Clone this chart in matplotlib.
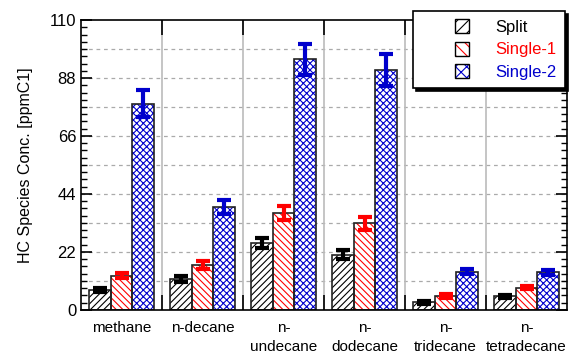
import numpy as np
import matplotlib.pyplot as plt
from matplotlib.ticker import MultipleLocator, FixedLocator, NullFormatter
from matplotlib.patches import Patch, Rectangle
from matplotlib.legend_handler import HandlerPatch, HandlerTuple

plt.rcParams['font.family'] = ['Liberation Sans', 'DejaVu Sans']
plt.rcParams['hatch.linewidth'] = 0.8

categories = ["methane", "n-decane", "n-\nundecane", "n-\ndodecane", "n-\ntridecane", "n-\ntetradecane"]
series = ["Split", "Single-1", "Single-2"]
split_vals = [7.6, 11.8, 25.3, 20.9, 2.9, 5.2]
split_err = [0.9, 1.0, 1.9, 1.7, 0.5, 0.5]
single1_vals = [13.0, 17.1, 36.9, 32.9, 5.3, 8.5]
single1_err = [0.9, 1.6, 2.6, 2.4, 0.6, 0.6]
single2_vals = [78.3, 39.2, 95.1, 91.0, 14.5, 14.3]
single2_err = [5.0, 2.6, 5.9, 6.0, 1.0, 1.0]

vals = [split_vals, single1_vals, single2_vals]
errs = [split_err, single1_err, single2_err]
colors = ["black", "red", "#0000cc"]
hatches = ["/////", "\\\\\\\\\\", "xxxxx"]

fig = plt.figure(figsize=(5.77, 3.54), dpi=100)
ax = fig.add_axes([0.1404, 0.1243, 0.8423, 0.8192])

x = np.arange(len(categories))
w = 0.27
for i in range(3):
    pos = x + (i - 1) * w
    ax.bar(pos, vals[i], w, color="white", edgecolor=colors[i], hatch=hatches[i], linewidth=0, zorder=3)
    ax.bar(pos, vals[i], w, fill=False, edgecolor="#222222", linewidth=1.2, zorder=4)
    ax.errorbar(pos, vals[i], yerr=errs[i], fmt="none", ecolor=colors[i], elinewidth=3,
                capsize=5, capthick=3, zorder=5)

ax.set_xlim(-0.5, len(categories) - 0.5)
ax.set_ylim(0, 110)

# grid
for yv in np.arange(11, 110, 11):
    ax.axhline(yv, color="#aaaaaa", linestyle=(0, (3, 3)), linewidth=0.9, zorder=1)
for xv in np.arange(0.5, len(categories) - 0.5, 1):
    ax.axvline(xv, color="#bbbbbb", linewidth=1.2, zorder=1)

ax.xaxis.set_major_locator(FixedLocator(np.arange(0.5, len(categories) - 0.5, 1)))
ax.xaxis.set_major_formatter(NullFormatter())
ax.xaxis.set_minor_locator(FixedLocator(x))
ax.set_xticklabels(categories, minor=True, linespacing=1.45)
ax.tick_params(axis="x", which="major", direction="in", length=11, width=1.2, top=True, bottom=True)
ax.tick_params(axis="x", which="minor", length=0, labelsize=11, pad=8)

ax.yaxis.set_major_locator(MultipleLocator(22))
ax.yaxis.set_minor_locator(MultipleLocator(2.75))
ax.tick_params(axis="y", which="major", direction="in", length=8, width=1.2, left=True, right=True, labelsize=12)
ax.tick_params(axis="y", which="minor", direction="in", length=4, width=1.0, left=True, right=True)

for s in ax.spines.values():
    s.set_linewidth(1.2)
    s.set_zorder(6)

ax.set_ylabel("HC Species Conc. [ppmC1]", fontsize=11.5)
ax.yaxis.set_label_coords(-0.098, 0.5)


def square_right(legend, orig_handle, xdescent, ydescent, width, height, fontsize):
    return Rectangle((width - height - xdescent, -ydescent), height, height)


sq = HandlerPatch(patch_func=square_right)
handles = []
for i in range(3):
    h1 = Patch(facecolor="white", edgecolor=colors[i], hatch=hatches[i][:3], linewidth=0)
    h2 = Patch(fill=False, edgecolor="black", linewidth=1.0)
    handles.append((h1, h2))

leg = ax.legend(handles, series, loc="upper right", bbox_to_anchor=(0.996, 1.031), fontsize=12,
                frameon=True, fancybox=False, shadow={"color": "black", "alpha": 1},
                handlelength=2.85, handleheight=0.9, handletextpad=1.6, borderpad=0.5,
                labelspacing=0.4, borderaxespad=0,
                handler_map={tuple: HandlerTuple(ndivide=1, pad=0), Patch: sq})
leg.get_frame().set_edgecolor("black")
leg.get_frame().set_linewidth(1.2)
leg.set_zorder(10)
for t, c in zip(leg.get_texts(), colors):
    t.set_color(c)

fig.savefig("out.png", dpi=100)
